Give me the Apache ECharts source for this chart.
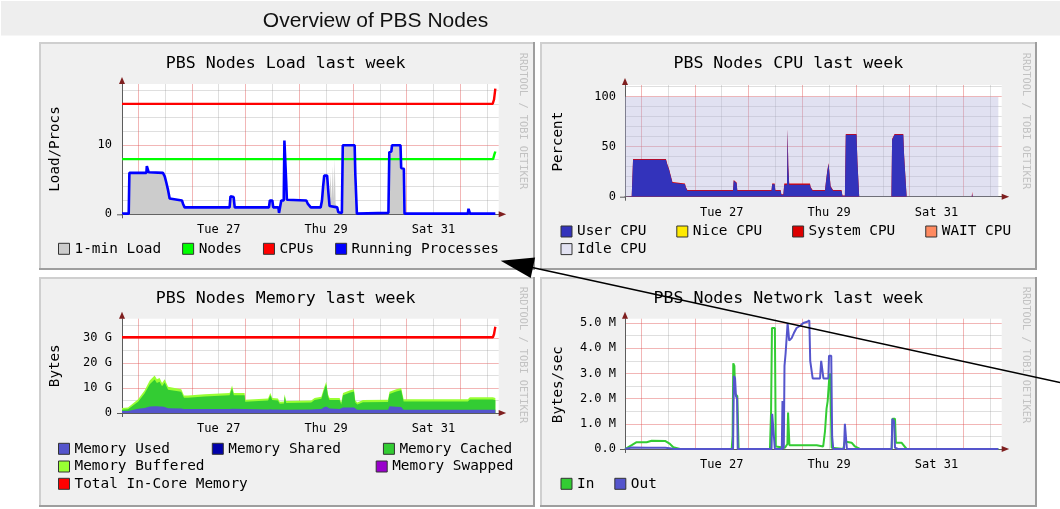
<!DOCTYPE html>
<html><head><meta charset="utf-8">
<script src="https://cdn.jsdelivr.net/npm/echarts@6/dist/echarts.min.js"></script>
<style>html,body{margin:0;padding:0;background:#fff}#c{width:1060px;height:509px}</style>
</head><body><div id="c"></div>
<script>
// ---------------- data (hours since start of the week window) ----------------
const xMidnights = [7.25, 31.25, 55.25, 79.25, 103.25, 127.25, 151.25];
const xNoons = [19.25, 43.25, 67.25, 91.25, 115.25, 139.25, 163.25];
const xLabelHours = [43.25, 91.25, 139.25];
const xLabelTexts = ['Tue 27', 'Thu 29', 'Sat 31'];

const loadYTicks = [0, 10];          const loadYLabels = ['0', '10'];
const loadYMinor = [2, 4, 6, 8, 12, 14, 16, 18];
const cpuYTicks = [0, 50, 100];      const cpuYLabels = ['0', '50', '100'];
const cpuYMinor = [10, 20, 30, 40, 60, 70, 80, 90, 110];
const memYTicks = [0, 10, 20, 30];   const memYLabels = ['0', '10 G', '20 G', '30 G'];
const memYMinor = [5, 15, 25, 35];
const netYTicks = [0, 1, 2, 3, 4, 5]; const netYLabels = ['0.0', '1.0 M', '2.0 M', '3.0 M', '4.0 M', '5.0 M'];
const netYMinor = [0.5, 1.5, 2.5, 3.5, 4.5];

// Load chart
const loadOne = [[0,0.1],[3.0,0.1],[3.3,6.0],[10.9,6.0],[11.1,6.8],[11.6,6.8],[11.9,6.0],[18.3,6.0],[19.1,5.5],[19.8,4.6],[20.6,3.5],[21.3,2.3],[22.0,2.1],[26.8,2.0],[27.3,1.5],[28.0,1.0],[48.1,1.0],[48.5,2.5],[49.9,2.4],[50.4,1.0],[65.7,1.0],[66.1,2.0],[67.2,2.0],[67.6,1.0],[69.9,1.0],[70.2,0.3],[70.9,0.3],[71.2,2.0],[72.3,2.0],[72.6,10.5],[73.1,10.5],[73.4,4.7],[73.7,2.1],[82.4,2.0],[83.1,1.5],[84.4,1.0],[88.8,1.0],[89.4,2.0],[89.9,4.0],[90.4,5.5],[91.7,5.5],[92.3,3.0],[92.6,2.0],[93.3,6.0],[93.6,2.0],[94.3,7.0],[94.6,2.2],[95.1,8.0],[95.5,1.5],[96.2,1.0],[96.7,0.4],[98.3,0.3],[98.7,10.0],[104.0,10.0],[104.3,5.8],[105.0,0.1],[119.1,0.2],[119.5,9.0],[120.4,9.1],[120.7,10.0],[124.5,10.0],[124.8,6.7],[126.0,6.6],[126.3,0.1],[154.6,0.1],[154.9,0.7],[155.4,0.7],[155.6,0.1],[166.9,0.1]];
const procRunning = [[0,0.1],[3.0,0.1],[3.3,6.0],[10.9,6.0],[11.1,7.0],[11.6,7.0],[11.9,6.1],[18.3,6.0],[19.1,5.5],[19.8,4.6],[20.6,3.5],[21.3,2.3],[22.0,2.1],[26.8,2.0],[27.3,1.5],[28.0,1.0],[48.1,1.0],[48.5,2.6],[49.9,2.5],[50.4,1.0],[65.7,1.0],[66.1,2.0],[67.2,2.0],[67.6,1.0],[69.9,1.0],[70.2,0.2],[70.9,0.2],[71.2,2.0],[72.3,2.0],[72.6,10.7],[73.1,10.7],[73.4,4.7],[73.7,2.1],[82.4,2.0],[83.1,1.5],[84.4,1.0],[88.8,1.0],[89.4,2.0],[89.9,4.0],[90.4,5.6],[91.7,5.6],[92.3,3.0],[92.8,1.2],[96.2,1.0],[96.7,0.3],[98.3,0.2],[98.7,10.0],[104.0,10.0],[104.3,5.8],[105.0,0.1],[119.1,0.2],[119.5,9.0],[120.4,9.1],[120.7,10.0],[124.5,10.0],[124.8,6.7],[126.0,6.6],[126.3,0.1],[154.6,0.1],[154.9,0.8],[155.4,0.8],[155.6,0.1],[166.9,0.1]];
const numNodes = [[0,8],[165.9,8],[166.4,8.6],[166.9,9.1]];
const numCpus = [[0,16],[165.7,16],[166.3,16.6],[166.9,18.2]];

// CPU chart: upper edge of each stacked layer
const cpuHours = [0,3.0,3.6,10.9,11.1,11.5,18.3,18.9,19.7,20.5,21.2,21.6,26.8,27.2,27.9,48.3,48.6,49.2,49.9,50.2,65.5,65.8,66.9,67.2,69.6,69.9,70.8,71.2,72.4,72.7,73.0,73.4,82.7,83.0,83.9,89.4,89.8,90.4,91.0,91.4,91.9,93.0,96.8,97.2,98.3,98.7,103.5,103.9,104.4,104.7,119.1,119.4,120.2,120.5,124.4,124.8,125.6,125.9,155.0,155.2,155.4,166.9];
const cpuUserTop = [0,0.5,37,37,39,37.5,37,32,27,20,14,12.5,12.5,9,6,6,16,14,13.5,6,6,12.5,12.5,6,6,2,2,12,12,67,30,12,12,9,6,6,14,25,33,34,10,6,6,1,1,62,62,35,35,0,0,57,57,62,62,40,40,0,0,3,0,0];
const cpuSystemTop = [0,0.5,37.7,37.7,39.7,38.2,37.7,32.7,27.7,20.6,14.6,13.1,13.1,9.6,6.6,6.6,16.8,14.8,14.3,6.6,6.6,13.3,13.3,6.6,6.6,2.5,2.5,13.2,13.2,68.2,31.2,13.2,13.2,9.8,6.6,6.6,14.8,25.8,33.8,34.8,10.6,6.6,6.6,1.3,1.3,62.8,62.8,35.7,35.7,0,0,57.8,57.8,62.8,62.8,40.7,40.7,0,0,5,0,0];
const cpuIdleTop = [[0,100],[166.9,100]];

// Memory chart (GB): upper edge of each stacked layer
const memHours = [0,2.7,3.4,7.2,10.1,12.4,14.6,15.6,16.8,17.9,19.1,20.6,21.3,26.5,27.7,29.5,36.9,48.1,49.2,50.0,54.8,55.1,65.3,66.3,67.2,69.7,70.5,72.4,72.7,73.4,84.6,86.1,89.1,90.3,91.3,92.1,92.8,97.3,98.0,98.8,101.7,103.7,104.3,105.2,107.7,118.9,119.6,122.6,124.8,125.9,154.6,155.5,165.8,166.9];
const memUsedTop = [0.8,0.8,1.6,1.7,2.0,2.6,2.7,2.7,2.6,2.6,2.4,1.9,1.8,1.8,1.6,1.6,1.6,1.6,1.7,1.6,1.6,1.4,1.4,1.5,1.4,1.4,1.3,1.3,1.3,1.3,1.4,1.5,1.6,2.3,2.6,2.2,1.8,1.6,1.3,2.2,2.2,2.2,1.4,1.3,1.3,1.3,2.7,2.5,2.4,1.3,1.3,1.3,1.3,1.3];
const memCachedTop = [1.3,1.5,2.2,4.5,7.8,11.5,13.4,12.0,12.5,10.7,12.2,9.3,8.9,8.5,6.1,6.1,6.6,7.1,10.0,7.1,7.1,4.5,5.0,7.1,5.2,5.0,3.7,3.8,6.7,4.0,4.2,5.2,5.7,9.1,11.5,6.6,5.2,5.2,3.4,7.1,8.1,8.6,4.2,3.4,4.3,4.4,7.6,8.6,9.1,4.6,4.6,5.4,5.4,5.1];
const memBufferedTop = [2.0,2.2,3.0,5.5,9.0,13.0,15.0,13.5,14.0,12.0,13.5,10.5,10.0,9.5,7.0,7.0,7.5,8.0,11.0,8.0,8.0,5.3,5.8,8.0,6.0,5.8,4.5,4.6,7.5,4.8,5.0,6.0,6.5,10.0,12.5,7.5,6.0,6.0,4.2,8.0,9.0,9.5,5.0,4.2,5.2,5.3,8.5,9.5,10.0,5.5,5.5,6.3,6.3,6.0];
const memTotal = [[0,30.3],[165.8,30.3],[166.3,31.5],[166.9,34.5]];

// Network chart (MB/s)
const netIn = [[0,0],[0.7,0.05],[3.0,0.15],[5.2,0.27],[9.7,0.27],[11.9,0.33],[17.9,0.32],[20.1,0.2],[21.6,0.07],[24.6,0],[47.7,0],[48.1,0.5],[48.4,3.4],[48.9,3.3],[49.2,2.2],[50.2,2.1],[50.8,0],[64.8,0],[65.3,1.5],[65.7,4.8],[67.0,4.8],[67.4,0.1],[71.5,0.05],[72.6,0.2],[72.9,1.45],[73.2,1.45],[73.5,0.15],[85.7,0.15],[88.6,0.1],[89.4,0.7],[90.1,1.6],[90.6,1.9],[91.3,2.8],[91.7,3.0],[92.1,3.0],[92.4,0.05],[97.6,0],[98.3,0.3],[101.3,0.25],[102.8,0.1],[105.0,0],[119.2,0],[119.6,1.2],[120.7,1.2],[121.1,0.25],[123.6,0.25],[125.9,0],[166.9,0]];
const netOut = [[0,0],[1.5,0.03],[3.0,0.06],[10,0.05],[18,0.05],[20,0.03],[22,0],[48.3,0],[48.7,2.9],[49.2,2.8],[49.6,2.1],[50.1,2.0],[50.4,0],[65.5,0],[65.8,1.4],[66.6,1.4],[67.0,0],[70.1,0],[70.4,1.9],[70.7,0],[71.0,0.1],[71.3,3.3],[71.8,3.8],[72.3,3.8],[72.7,5.0],[73.1,5.0],[73.4,4.3],[74.5,4.4],[75.5,4.6],[76.7,4.8],[78.5,4.9],[79.7,5.0],[81.5,5.05],[82.4,5.1],[82.8,3.5],[83.9,2.8],[87.2,2.8],[87.7,3.5],[88.3,3.5],[88.7,2.8],[90.9,2.8],[91.2,3.7],[92.2,3.7],[92.6,0.5],[93.1,0],[97.9,0],[98.3,1.0],[98.8,1.0],[99.2,0],[119.2,0],[119.5,1.2],[120.3,1.1],[120.7,0.05],[121.5,0.08],[122,0],[166.9,0]];

// ---------------- layout & style ----------------
const FONT = '"DejaVu Sans Mono", monospace';
const X_MAX = 168.4;
const MAJOR = 'rgba(225,80,80,0.42)';
const MINOR = 'rgba(150,150,150,0.3)';
const AXIS = '#5c5c5c';
const ARROW = '#7f1f1f';

const panels = [
  {left:122, top:84, width:376.7, height:130.3, ymax:18.88, box:[39,42,496,228], title:'PBS Nodes Load last week', tpos:[285.7,64], yname:'Load/Procs', npos:[55,149], mpos:[523,121], lm:10,
   yTicks:loadYTicks, yLabels:loadYLabels, yMinor:loadYMinor},
  {left:625, top:85, width:376.7, height:111.7, ymax:111.7, box:[540,42,497,228], title:'PBS Nodes CPU last week', tpos:[788.3,64], yname:'Percent', npos:[558.3,141.7], mpos:[1025.7,121], lm:9,
   yTicks:cpuYTicks, yLabels:cpuYLabels, yMinor:cpuYMinor},
  {left:122, top:318.7, width:376.7, height:94.3, ymax:37.72, box:[39,277,496,230], title:'PBS Nodes Memory last week', tpos:[285.7,298.7], yname:'Bytes', npos:[55.3,365.8], mpos:[523,355], lm:10,
   yTicks:memYTicks, yLabels:memYLabels, yMinor:memYMinor},
  {left:625, top:318.7, width:376.7, height:130.3, ymax:5.17, box:[540,277,497,230], title:'PBS Nodes Network last week', tpos:[788.3,298.7], yname:'Bytes/sec', npos:[558.3,384.7], mpos:[1025.7,355], lm:9,
   yTicks:netYTicks, yLabels:netYLabels, yMinor:netYMinor}
];

const grids = [], xAxes = [], yAxes = [], graphics = [];

graphics.push({type:'rect', z:-2, shape:{x:1, y:1, width:1059, height:34.6}, style:{fill:'#eeeeee'}});
graphics.push({type:'text', z:50, x:375.5, y:21.5, style:{text:'Overview of PBS Nodes', fill:'#111', font:'21px "Liberation Sans", Arial, sans-serif', align:'center', verticalAlign:'middle', textAlign:'center', textVerticalAlign:'middle'}});

panels.forEach((P, g) => {
  const [bx, by, bw, bh] = P.box;
  graphics.push({type:'rect', z:-2, shape:{x:bx, y:by, width:bw, height:bh}, style:{fill:'#f0f0f0'}});
  graphics.push({type:'line', z:-1, shape:{x1:bx, y1:by+1, x2:bx+bw, y2:by+1}, style:{stroke:'#cfcfcf', lineWidth:2}});
  graphics.push({type:'line', z:-1, shape:{x1:bx+1, y1:by, x2:bx+1, y2:by+bh}, style:{stroke:'#cfcfcf', lineWidth:2}});
  graphics.push({type:'line', z:-1, shape:{x1:bx, y1:by+bh-1, x2:bx+bw, y2:by+bh-1}, style:{stroke:'#9e9e9e', lineWidth:2}});
  graphics.push({type:'line', z:-1, shape:{x1:bx+bw-1, y1:by, x2:bx+bw-1, y2:by+bh}, style:{stroke:'#9e9e9e', lineWidth:2}});
  graphics.push({type:'text', z:50, x:P.tpos[0], y:P.tpos[1], style:{text:P.title, fill:'#000', font:'16.6px ' + FONT, align:'center', verticalAlign:'middle', textAlign:'center', textVerticalAlign:'middle'}});
  graphics.push({type:'text', z:50, x:P.npos[0], y:P.npos[1], rotation:Math.PI/2, style:{text:P.yname, fill:'#000', font:'14.2px ' + FONT, align:'center', verticalAlign:'middle', textAlign:'center', textVerticalAlign:'middle'}});
  graphics.push({type:'text', z:50, x:P.mpos[0], y:P.mpos[1], rotation:-Math.PI/2, style:{text:'RRDTOOL / TOBI OETIKER', fill:'#c2c2c2', font:'10.3px ' + FONT, align:'center', verticalAlign:'middle', textAlign:'center', textVerticalAlign:'middle'}});
  const R = P.left + P.width, B = P.top + P.height;
  graphics.push({type:'line', z:40, shape:{x1:P.left-5, y1:B+0.5, x2:P.left, y2:B+0.5}, style:{stroke:AXIS, lineWidth:1}});
  graphics.push({type:'line', z:40, shape:{x1:P.left+0.5, y1:B, x2:P.left+0.5, y2:B+4}, style:{stroke:AXIS, lineWidth:1}});
  graphics.push({type:'polygon', z:50, shape:{points:[[R, B-3],[R+7.5, B],[R, B+3]]}, style:{fill:ARROW}});
  graphics.push({type:'polygon', z:50, shape:{points:[[P.left-3, P.top],[P.left, P.top-7],[P.left+3, P.top]]}, style:{fill:ARROW}});

  grids.push({left:P.left, top:P.top, width:P.width, height:P.height, show:true, backgroundColor:'#ffffff', borderWidth:0});
  xAxes.push({gridIndex:g, type:'value', position:'bottom', min:0, max:X_MAX,
    axisLine:{show:true, onZero:false, lineStyle:{color:AXIS, width:1}},
    axisTick:{show:false, customValues:xMidnights},
    axisLabel:{show:false},
    splitLine:{show:true, lineStyle:{color:MAJOR, width:1}}});
  xAxes.push({gridIndex:g, type:'value', position:'bottom', min:0, max:X_MAX,
    axisLine:{show:false},
    axisTick:{show:false, customValues:xNoons},
    axisLabel:{show:true, customValues:xLabelHours, margin:10, color:'#000', fontFamily:FONT, fontSize:12,
      formatter: v => xLabelTexts[xLabelHours.findIndex(h => Math.abs(h - v) < 0.01)] || ''},
    splitLine:{show:true, lineStyle:{color:MINOR, width:1}}});
  yAxes.push({gridIndex:g, type:'value', position:'left', min:0, max:P.ymax,
    axisLine:{show:true, onZero:false, lineStyle:{color:AXIS, width:1}},
    axisTick:{show:false, customValues:P.yTicks},
    axisLabel:{show:true, customValues:P.yTicks, margin:P.lm, color:'#000', fontFamily:FONT, fontSize:12,
      formatter: v => P.yLabels[P.yTicks.findIndex(t => Math.abs(t - v) < 1e-6)] || ''},
    splitLine:{show:true, lineStyle:{color:MAJOR, width:1}}});
  yAxes.push({gridIndex:g, type:'value', position:'left', min:0, max:P.ymax,
    axisLine:{show:false},
    axisTick:{show:false, customValues:P.yMinor},
    axisLabel:{show:false},
    splitLine:{show:true, lineStyle:{color:MINOR, width:1}}});
});

// annotation arrow
graphics.push({type:'line', z:60, shape:{x1:1060, y1:382.5, x2:531, y2:267.3}, style:{stroke:'#000', lineWidth:1.4}});
graphics.push({type:'polygon', z:60, shape:{points:[[500.7,260.7],[535.1,257.5],[530.7,277.9]]}, style:{fill:'#000'}});

const zip = (hs, vs) => hs.map((h, i) => [h, vs[i]]);
function line(name, g, data, color, width) {
  return {name, type:'line', xAxisIndex:2*g, yAxisIndex:2*g, data, showSymbol:false, symbol:'none', silent:true,
    itemStyle:{color}, lineStyle:{color, width}};
}
function area(name, g, data, color, fill) {
  return {name, type:'line', xAxisIndex:2*g, yAxisIndex:2*g, data, showSymbol:false, symbol:'none', silent:true,
    itemStyle:{color}, lineStyle:{width:0, color}, areaStyle:{color: fill || color, opacity:1}};
}

// layers drawn back-to-front: each area is filled from 0 up to its own upper edge
const series = [
  area('1-min Load', 0, loadOne, '#cccccc'),
  line('Nodes', 0, numNodes, '#00ff00', 2.4),
  line('CPUs', 0, numCpus, '#ff0000', 2.4),
  line('Running Processes', 0, procRunning, '#0000ff', 2.6),

  area('Idle CPU', 1, cpuIdleTop, '#e2e2f2', 'rgba(180,180,220,0.4)'),
  area('WAIT CPU', 1, [], '#ff8a60'),
  area('System CPU', 1, zip(cpuHours, cpuSystemTop), '#dd0000'),
  area('Nice CPU', 1, [], '#ffea00'),
  area('User CPU', 1, zip(cpuHours, cpuUserTop), '#3333bb'),

  area('Memory Swapped', 2, [], '#9900cc'),
  area('Memory Buffered', 2, zip(memHours, memBufferedTop), '#99ff33'),
  area('Memory Cached', 2, zip(memHours, memCachedTop), '#33cc33'),
  area('Memory Shared', 2, [], '#0000aa'),
  area('Memory Used', 2, zip(memHours, memUsedTop), '#5555cc'),
  line('Total In-Core Memory', 2, memTotal, '#ff0000', 2.4),

  line('In', 3, netIn, '#33cc33', 2),
  line('Out', 3, netOut, '#5555cc', 2)
];

function legend(left, centerY, gap, names) {
  return {left, top:centerY - 7.2, padding:0, orient:'horizontal', itemWidth:11, itemHeight:11, itemGap:gap,
    icon:'rect', selectedMode:false, itemStyle:{borderColor:'#333', borderWidth:1},
    textStyle:{fontFamily:FONT, fontSize:14.4, color:'#000'},
    data: names.map(n => n === 'Idle CPU' ? {name:n, itemStyle:{color:'#e2e2f2'}} : {name:n})};
}
const legends = [
  legend(58, 249, 21, ['1-min Load', 'Nodes', 'CPUs', 'Running Processes']),
  legend(560.5, 231.7, 30, ['User CPU', 'Nice CPU', 'System CPU', 'WAIT CPU']),
  legend(560.5, 249.3, 30, ['Idle CPU']),
  legend(58, 449, 42, ['Memory Used', 'Memory Shared', 'Memory Cached']),
  legend(58, 466.7, 20, ['Memory Buffered']),
  legend(375.7, 466.7, 20, ['Memory Swapped']),
  legend(58, 484, 20, ['Total In-Core Memory']),
  legend(560.5, 484, 20, ['In', 'Out'])
];

const chart = echarts.init(document.getElementById('c'), null, {renderer:'canvas'});
chart.setOption({
  animation:false,
  backgroundColor:'#ffffff',
  grid:grids, xAxis:xAxes, yAxis:yAxes,
  legend:legends,
  graphic:{elements:graphics},
  series
});
</script></body></html>
